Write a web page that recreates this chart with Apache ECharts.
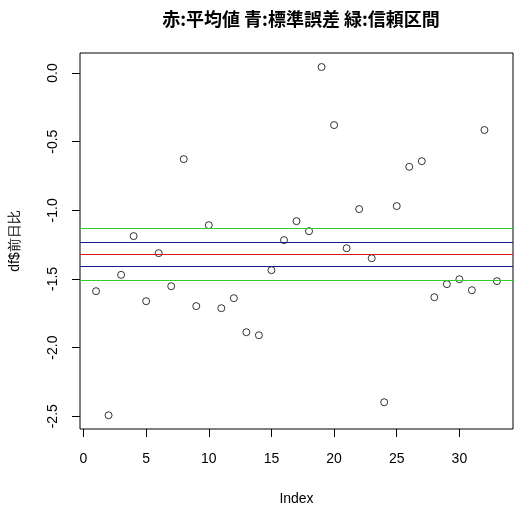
<!DOCTYPE html>
<html>
<head>
<meta charset="utf-8">
<script src="https://cdn.jsdelivr.net/npm/echarts@6/dist/echarts.min.js"></script>
<style>
  html, body { margin: 0; padding: 0; background: #fff; }
  #chart { width: 526px; height: 516px; }
</style>
</head>
<body>
<div id="chart"></div>
<script>
// 前日比の値 (Index 1..33)
var values = [
  -1.589, -2.493, -1.470, -1.188, -1.662, -1.312, -1.553, -0.627, -1.698, -1.108,
  -1.713, -1.640, -1.888, -1.910, -1.436, -1.217, -1.079, -1.152, 0.044, -0.379,
  -1.276, -0.991, -1.349, -2.398, -0.969, -0.683, -0.642, -1.633, -1.538, -1.502,
  -1.582, -0.415, -1.516
];
// 水平線: 平均値, 標準誤差, 信頼区間
var meanLine = [-1.319];
var seLines = [-1.225, -1.414];
var ciLines = [-1.130, -1.514];
// 目盛り
var xTicks = [0, 5, 10, 15, 20, 25, 30];
var yTicks = [0, -0.5, -1, -1.5, -2, -2.5];

var points = values.map(function (v, i) { return [i + 1, v]; });

function hline(vals, color) {
  return vals.map(function (v) {
    return { yAxis: v, lineStyle: { color: color, width: 1, type: 'solid' } };
  });
}

var myChart = echarts.init(document.getElementById('chart'));
var option = {
  animation: false,
  title: {
    text: '赤:平均値 青:標準誤差 緑:信頼区間',
    left: 296,
    textAlign: 'center',
    top: 5,
    textStyle: {
      fontFamily: 'Noto Sans CJK JP',
      fontSize: 18,
      fontWeight: 'bold',
      color: '#000'
    }
  },
  grid: {
    left: 79,
    right: 13,
    top: 53,
    bottom: 87,
    show: true,
    borderColor: '#000',
    borderWidth: 1
  },
  xAxis: {
    type: 'value',
    min: -0.28,
    max: 34.28,
    name: 'Index',
    nameLocation: 'middle',
    nameGap: 63,
    nameTextStyle: { fontFamily: 'Liberation Sans', fontSize: 14, color: '#000' },
    axisLine: { show: false, onZero: false },
    splitLine: { show: false },
    axisTick: {
      show: true,
      length: 8,
      customValues: xTicks,
      lineStyle: { color: '#000' }
    },
    axisLabel: {
      customValues: xTicks,
      margin: 23,
      fontFamily: 'Liberation Sans',
      fontSize: 14,
      color: '#000'
    }
  },
  yAxis: {
    type: 'value',
    min: -2.593,
    max: 0.146,
    name: 'df$前日比',
    nameLocation: 'middle',
    nameRotate: 90,
    nameGap: 58,
    nameTextStyle: { fontFamily: 'Liberation Sans', fontSize: 14, color: '#000' },
    axisLine: { show: false, onZero: false },
    splitLine: { show: false },
    axisTick: {
      show: true,
      length: 8,
      customValues: yTicks,
      lineStyle: { color: '#000' }
    },
    axisLabel: {
      customValues: yTicks,
      rotate: 90,
      margin: 20,
      fontFamily: 'Liberation Sans',
      fontSize: 14,
      color: '#000',
      formatter: function (v) { return v.toFixed(1); }
    }
  },
  series: [
    {
      type: 'scatter',
      data: points,
      symbol: 'circle',
      symbolSize: 7,
      itemStyle: { color: 'rgba(255,255,255,0)', borderColor: '#000', borderWidth: 1 },
      markLine: {
        silent: true,
        symbol: 'none',
        label: { show: false },
        data: hline(ciLines, '#33cc33').concat(hline(seLines, '#141a8c'), hline(meanLine, '#d41a1a'))
      }
    }
  ]
};
window.onresize = myChart.resize;
myChart.setOption(option);
</script>
</body>
</html>
